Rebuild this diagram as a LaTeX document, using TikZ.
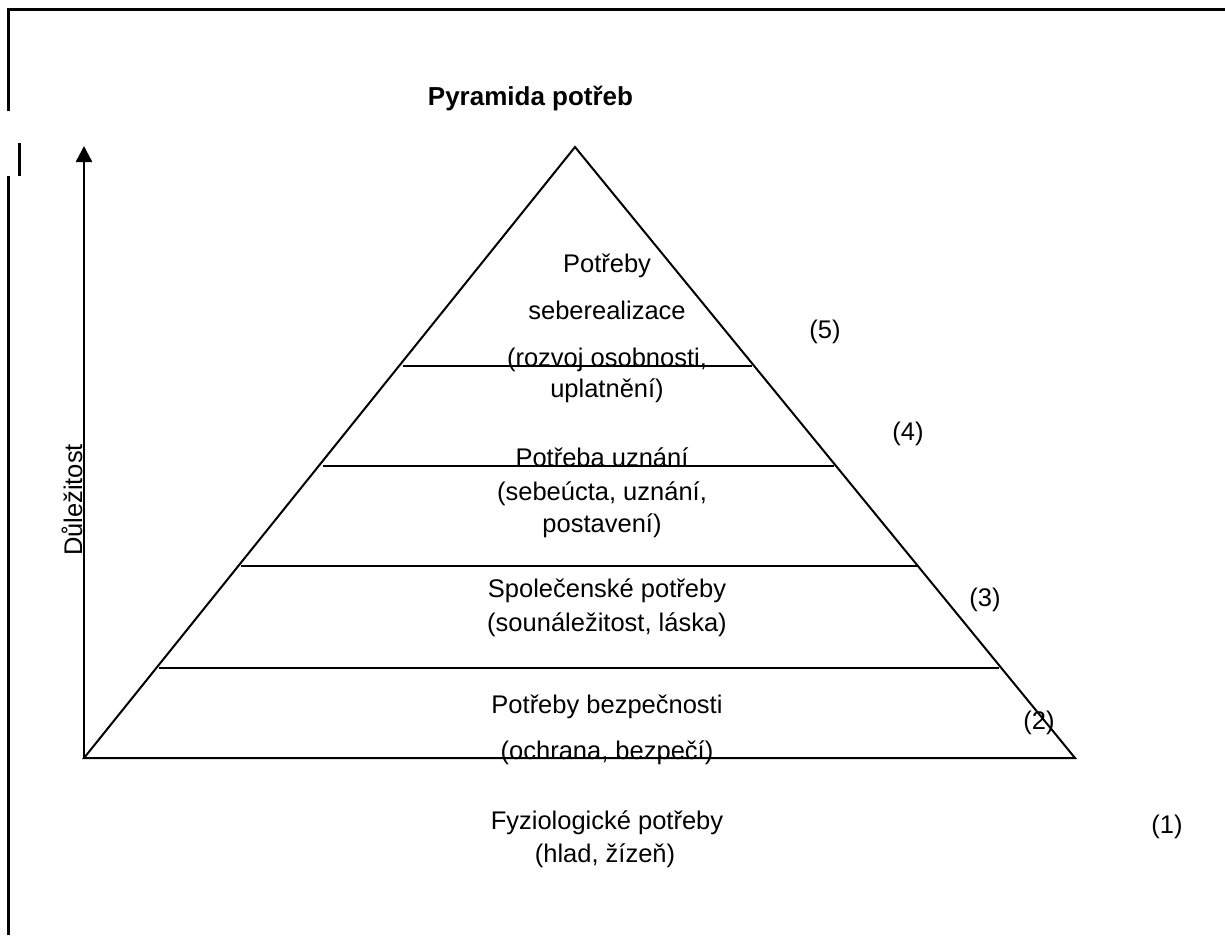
\documentclass[tikz,border=0pt]{standalone}
\usepackage{fontspec}
\setmainfont{Liberation Sans}
\usetikzlibrary{arrows.meta}
\begin{document}
\begin{tikzpicture}[x=1pt,y=-1pt,
  txt/.style={anchor=base,inner sep=0pt,font=\fontsize{25.5}{30}\selectfont},
  ttl/.style={anchor=base,inner sep=0pt,font=\fontsize{26}{30}\selectfont\bfseries},
  frame/.style={line width=3pt},
  pyr/.style={line width=2pt,line join=miter},
  axis/.style={line width=2.5pt,-{Triangle[width=16pt,length=16pt]}}]
\useasboundingbox (0,0) rectangle (1225,935);
% frame pieces
\draw[frame] (8.5,111) -- (8.5,9) -- (1225,9);
\draw[frame] (19,143) -- (19,176);
\draw[frame] (8.5,176) -- (8.5,935);
% pyramid
\coordinate (apex) at (575,147);
\coordinate (bl) at (84,758);
\coordinate (br) at (1075,758);
\draw[pyr] (bl) -- (apex) -- (br) -- cycle;
\draw[pyr] (403,366) -- (752,366);
\draw[pyr] (323,466) -- (834,466);
\draw[pyr] (241,566) -- (917,566);
\draw[pyr] (159,668) -- (999,668);
% axis
\coordinate (axtop) at (84,146);
\draw[axis] (bl) -- (axtop);
\node[txt,rotate=90] (imp) at (82,500) {Důležitost};
% title
\node[ttl] (title) at (530.5,105) {Pyramida potřeb};
% level 5
\node[txt] (l5a) at (607,272) {Potřeby};
\node[txt] (l5b) at (607,319) {seberealizace};
\node[txt] (l5c) at (607,366) {(rozvoj osobnosti,};
\node[txt] (l5d) at (607,397) {uplatnění)};
% level 4
\node[txt] (l4a) at (602,466) {Potřeba uznání};
\node[txt] (l4b) at (602,500) {(sebeúcta, uznání,};
\node[txt] (l4c) at (602,532) {postavení)};
% level 3
\node[txt] (l3a) at (607,597) {Společenské potřeby};
\node[txt] (l3b) at (607,631) {(sounáležitost, láska)};
% level 2
\node[txt] (l2a) at (607,713) {Potřeby bezpečnosti};
\node[txt] (l2b) at (607,759) {(ochrana, bezpečí)};
% level 1
\node[txt] (l1a) at (607,829) {Fyziologické potřeby};
\node[txt] (l1b) at (605,862) {(hlad, žízeň)};
% numbers
\node[txt] (n5) at (825,338) {(5)};
\node[txt] (n4) at (908,440) {(4)};
\node[txt] (n3) at (985,606) {(3)};
\node[txt] (n2) at (1039,729) {(2)};
\node[txt] (n1) at (1167,833) {(1)};
\end{tikzpicture}
\end{document}
